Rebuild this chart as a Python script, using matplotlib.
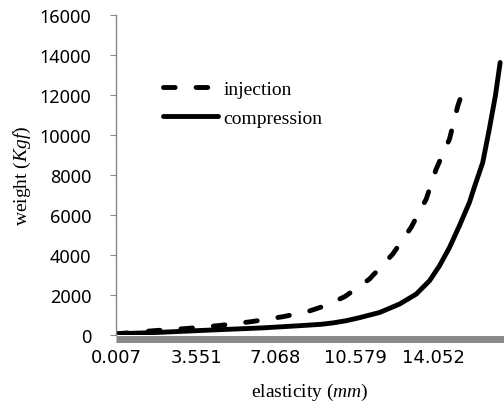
import matplotlib.pyplot as plt
import numpy as np

plt.rcParams['mathtext.fontset'] = 'custom'
plt.rcParams['mathtext.rm'] = 'Liberation Serif'
plt.rcParams['mathtext.it'] = 'Liberation Serif:italic'

# values
inj_x = [0.007, 1.64, 3.15, 4.6, 6.0, 7.4, 8.5, 9.3, 10.14, 11.22, 12.25,
         13.06, 13.73, 14.17, 14.76, 15.13, 15.23]
inj_y = [60, 215, 330, 480, 670, 920, 1180, 1480, 1930, 2800, 4050,
         5380, 6800, 8300, 9800, 11470, 11800]

comp_x = [0.007, 2.0, 4.17, 6.5, 8.15, 9.1, 9.62, 10.2, 10.78, 11.67, 12.55,
          13.29, 13.88, 14.32, 14.76, 15.2, 15.64, 15.86, 16.23, 16.52, 16.79, 17.0]
comp_y = [60, 140, 250, 360, 470, 540, 610, 720, 870, 1130, 1550,
          2050, 2720, 3470, 4380, 5470, 6630, 7400, 8630, 10300, 11970, 13630]

x_ticks = [0.007, 3.551, 7.068, 10.579, 14.052]
y_ticks = np.arange(0, 16001, 2000)

fig = plt.figure(figsize=(5.04, 4.02), dpi=100)
ax = fig.add_axes([0.230, 0.164, 0.770, 0.796])

ax.plot(inj_x, inj_y, color='black', lw=3.5, ls=(0, (2.4, 4.3)),
        dash_capstyle='round', label='injection')
ax.plot(comp_x, comp_y, color='black', lw=3.5, solid_capstyle='round',
        label='compression')

ax.set_xlim(0.007, 17.17)
ax.set_ylim(0, 16000)
ax.set_xticks(x_ticks)
ax.set_xticklabels(['0.007', '3.551', '7.068', '10.579', '14.052'])
ax.set_yticks(y_ticks)
for lbl in ax.get_xticklabels() + ax.get_yticklabels():
    lbl.set_fontfamily('Noto Sans')

for s in ['top', 'right']:
    ax.spines[s].set_visible(False)
ax.spines['left'].set_color('#888888')
ax.spines['left'].set_linewidth(1)
ax.spines['bottom'].set_color('#888888')
ax.spines['bottom'].set_linewidth(5)
ax.spines['bottom'].set_position(('outward', 2.5))
ax.spines['bottom'].set_capstyle('butt')

ax.tick_params(axis='y', length=4.3, color='#888888', labelsize=13, pad=13.5)
ax.tick_params(axis='x', length=0, labelsize=13, pad=6.5)

ax.set_xlabel('elasticity ($\\mathit{mm}$)', fontfamily='Liberation Serif',
              fontsize=14, labelpad=11)
ax.set_ylabel('weight ($\\mathit{Kgf}$)', fontfamily='Liberation Serif',
              fontsize=14, labelpad=5)

ax.legend(loc='upper left', bbox_to_anchor=(0.077, 0.852), frameon=False,
          prop={'family': 'Liberation Serif', 'size': 14},
          handlelength=2.8, handletextpad=0.3, labelspacing=0.6)

fig.savefig('out.png', dpi=100)
